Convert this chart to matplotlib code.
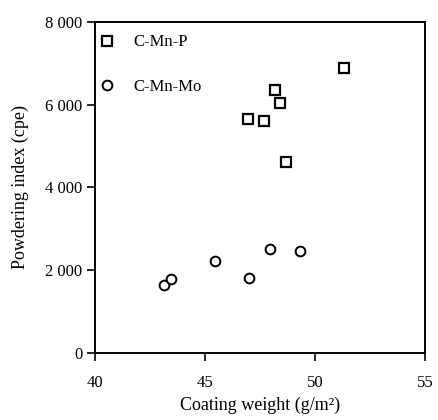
import matplotlib.pyplot as plt
from matplotlib.ticker import FuncFormatter

plt.rcParams['font.family'] = ['Liberation Serif', 'DejaVu Serif']
plt.rcParams['font.size'] = 12

# C-Mn-P steel
p_weight = [51.3, 48.2, 48.4, 46.95, 47.7, 48.7]
p_index = [6880, 6350, 6030, 5650, 5600, 4610]

# C-Mn-Mo steel
mo_weight = [43.15, 43.45, 45.45, 47.0, 47.95, 49.3]
mo_index = [1640, 1790, 2220, 1810, 2510, 2460]

fig = plt.figure(figsize=(4.38, 4.2), dpi=100)
ax = fig.add_axes([0.217, 0.16, 0.753, 0.788])

ax.plot(p_weight, p_index, 's', ms=7, mfc='white', mec='black', mew=1.6, label='C-Mn-P')
ax.plot(mo_weight, mo_index, 'o', ms=7, mfc='white', mec='black', mew=1.4, label='C-Mn-Mo')

ax.set_xlim(40, 55)
ax.set_ylim(0, 8000)
ax.set_xticks([40, 45, 50, 55])
ax.set_yticks([0, 2000, 4000, 6000, 8000])
ax.yaxis.set_major_formatter(FuncFormatter(lambda v, p: f'{int(v):,}'.replace(',', ' ')))
ax.tick_params(direction='out', length=6, width=1.2, labelsize=12)
ax.tick_params(axis='x', pad=10)
ax.tick_params(axis='y', pad=3)
for s in ax.spines.values():
    s.set_linewidth(1.4)

ax.set_xlabel('Coating weight (g/m²)', fontsize=13, labelpad=4)
ax.set_ylabel('Powdering index (cpe)', fontsize=13, labelpad=12)

# legend sits tight to the left spine, a little down from the top
ax.legend(loc='upper left', bbox_to_anchor=(-0.027, 1.0), frameon=False,
          labelspacing=1.7, handletextpad=1.1, borderaxespad=0.0,
          handlelength=1.0, borderpad=0.75)

fig.savefig('out.png', dpi=100)
